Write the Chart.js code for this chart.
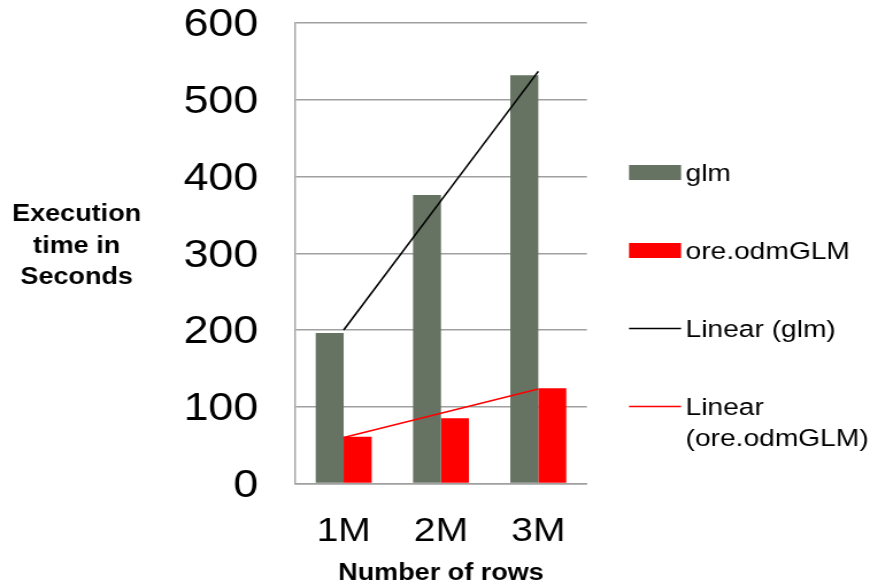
<!DOCTYPE html>
<html>
<head>
<meta charset="utf-8">
<script src="https://cdn.jsdelivr.net/npm/chart.js@4.4.1/dist/chart.umd.min.js"></script>
<style>
  html, body { margin: 0; padding: 0; background: #fff; overflow: hidden; }
  #wrap { width: 870px; height: 586px; }
  canvas { display: block; }
</style>
</head>
<body>
<div id="wrap">
  <!-- drawn at 757 px wide, shown at 870 px: text and marks come out a little wide -->
  <canvas id="chart" width="757" height="586" style="width:870px;height:586px"></canvas>
</div>
<script>
// ---- data ----
const categories = ['1M', '2M', '3M'];
const glmSeconds = [196, 376, 532];
const oreSeconds = [61, 85, 124];
// straight trend lines, end points as drawn
const glmTrend = [200, 368.5, 537];
const oreTrend = [60, 91.5, 123];
const yTickValues = [0, 100, 200, 300, 400, 500, 600];
const seriesNames = ['glm', 'ore.odmGLM', 'Linear (glm)', 'Linear (ore.odmGLM)'];
const yTitleLines = ['Execution', 'time in', 'Seconds'];
const xTitleText = 'Number of rows';

// ---- styling ----
const FONT = '"Liberation Sans", Arial, Helvetica, sans-serif';
const GLM_COLOR = '#667362';
const ORE_COLOR = '#ff0000';
const GRID_COLOR = '#a0a0a0';

// legend on the right, one entry per dataset, wrapping long labels
const sideLegend = {
  id: 'sideLegend',
  afterDraw(chart, args, opts) {
    const ctx = chart.ctx;
    ctx.save();
    ctx.font = opts.fontSize + 'px ' + FONT;
    ctx.textBaseline = 'middle';
    ctx.textAlign = 'left';
    ctx.fillStyle = '#000';
    let y = opts.top;
    chart.data.datasets.forEach(ds => {
      const words = ds.label.split(' ');
      const lines = [];
      let cur = '';
      words.forEach(w => {
        const t = cur ? cur + ' ' + w : w;
        if (cur && ctx.measureText(t).width > opts.maxTextWidth) {
          lines.push(cur);
          cur = w;
        } else {
          cur = t;
        }
      });
      lines.push(cur);
      if (ds.type === 'line') {
        ctx.strokeStyle = ds.borderColor;
        ctx.lineWidth = 1.6;
        ctx.beginPath();
        ctx.moveTo(opts.swatchX, y);
        ctx.lineTo(opts.swatchX + opts.swatchW, y);
        ctx.stroke();
      } else {
        ctx.fillStyle = ds.backgroundColor;
        ctx.fillRect(opts.swatchX, y - opts.swatchH / 2, opts.swatchW, opts.swatchH);
      }
      ctx.fillStyle = '#000';
      lines.forEach((l, i) => ctx.fillText(l, opts.textX, y + opts.textShift + i * opts.lineGap));
      y += opts.itemGap;
    });
    ctx.restore();
  }
};

// horizontal, multi-line title left of the value axis
const sideTitle = {
  id: 'sideTitle',
  afterDraw(chart, args, opts) {
    const ctx = chart.ctx;
    ctx.save();
    ctx.font = 'bold ' + opts.fontSize + 'px ' + FONT;
    ctx.textAlign = 'center';
    ctx.textBaseline = 'middle';
    ctx.fillStyle = '#000';
    opts.lines.forEach((l, i) => ctx.fillText(l, opts.x, opts.top + i * opts.lineGap));
    ctx.restore();
  }
};

new Chart(document.getElementById('chart'), {
  type: 'bar',
  data: {
    labels: categories,
    datasets: [
      {
        label: seriesNames[0],
        data: glmSeconds,
        backgroundColor: GLM_COLOR,
        borderWidth: 0,
        barPercentage: 1,
        categoryPercentage: 0.575,
        order: 2
      },
      {
        label: seriesNames[1],
        data: oreSeconds,
        backgroundColor: ORE_COLOR,
        borderWidth: 0,
        barPercentage: 1,
        categoryPercentage: 0.575,
        order: 2
      },
      {
        type: 'line',
        label: seriesNames[2],
        data: glmTrend,
        borderColor: '#000000',
        borderWidth: 1.6,
        pointRadius: 0,
        tension: 0,
        fill: false,
        order: 1
      },
      {
        type: 'line',
        label: seriesNames[3],
        data: oreTrend,
        borderColor: ORE_COLOR,
        borderWidth: 1.6,
        pointRadius: 0,
        tension: 0,
        fill: false,
        order: 1
      }
    ]
  },
  options: {
    responsive: false,
    devicePixelRatio: 1,
    animation: false,
    events: [],
    layout: { padding: { left: 0, top: 23, right: 246.3, bottom: 0 } },
    plugins: {
      legend: { display: false },
      tooltip: { enabled: false },
      sideLegend: {
        fontSize: 24.5,
        top: 172.5,
        itemGap: 78,
        lineGap: 31,
        textShift: 1.5,
        swatchX: 547.3,
        swatchW: 45.3,
        swatchH: 15,
        textX: 596.5,
        maxTextWidth: 155
      },
      sideTitle: {
        fontSize: 23.5,
        lines: yTitleLines,
        x: 66.7,
        top: 215,
        lineGap: 31.5
      }
    },
    scales: {
      x: {
        grid: { display: false, drawTicks: false },
        border: { display: true, color: GRID_COLOR, width: 1.4 },
        ticks: {
          color: '#000',
          padding: 28,
          maxRotation: 0,
          font: { family: FONT, size: 34 }
        },
        title: {
          display: true,
          text: xTitleText,
          color: '#000',
          padding: { top: 0, bottom: -2 },
          font: { family: FONT, size: 23.5, weight: 'bold' }
        },
        afterFit(scale) {
          scale.height = 102.5;
          scale.paddingLeft = 0;
          scale.paddingRight = 0;
        }
      },
      y: {
        min: 0,
        max: 600,
        grid: { color: GRID_COLOR, lineWidth: 1.4, drawTicks: false },
        border: { display: true, color: GRID_COLOR, width: 1.4 },
        ticks: {
          color: '#000',
          padding: 32,
          labelOffset: 2.5,
          font: { family: FONT, size: 39 }
        },
        afterBuildTicks(scale) {
          scale.ticks = yTickValues.map(v => ({ value: v }));
        },
        afterFit(scale) {
          scale.width = 256.7;
          scale.paddingTop = 0;
          scale.paddingBottom = 0;
        }
      }
    }
  },
  plugins: [sideLegend, sideTitle]
});
</script>
</body>
</html>
